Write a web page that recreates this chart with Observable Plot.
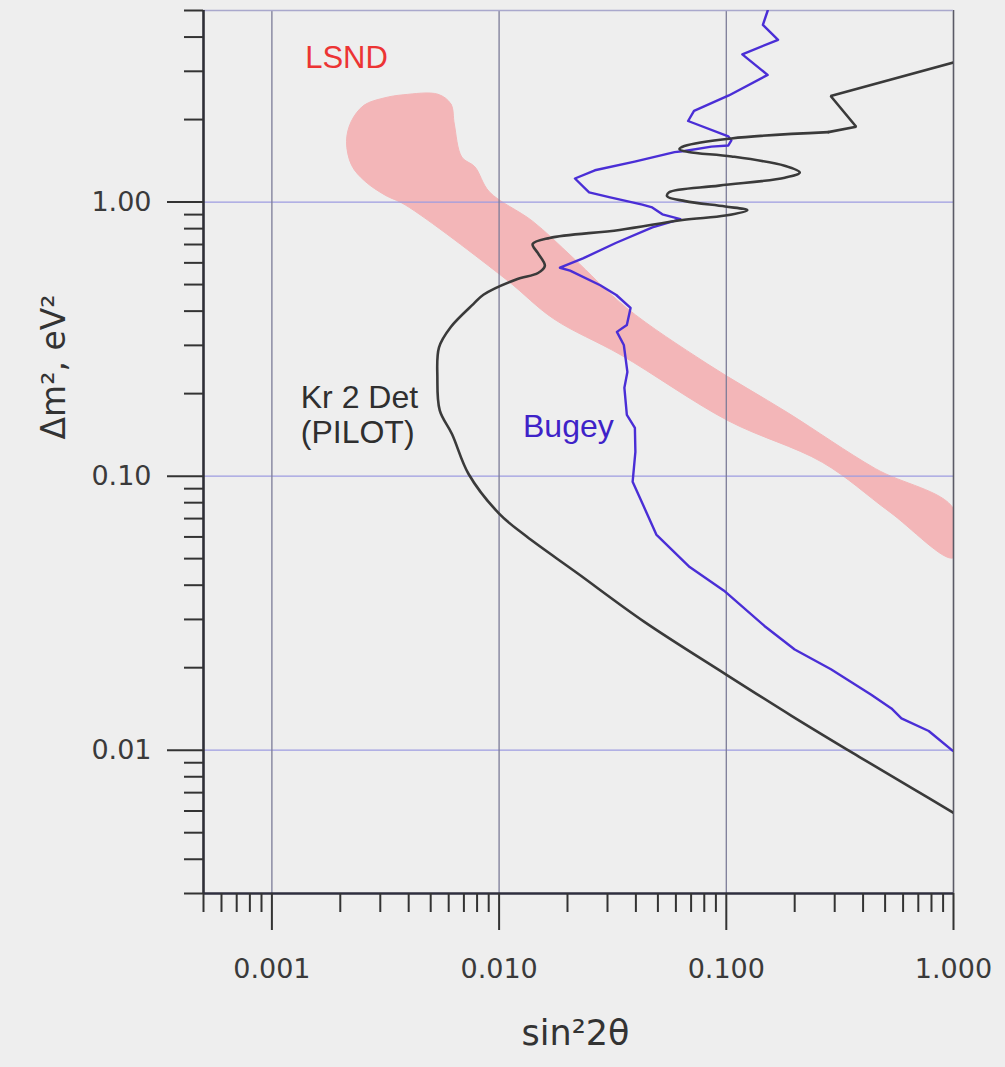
<!DOCTYPE html>
<html><head><meta charset="utf-8">
<script src="https://cdn.jsdelivr.net/npm/d3@7"></script>
<script src="https://cdn.jsdelivr.net/npm/@observablehq/plot@0.6"></script>
<style>html,body{margin:0;padding:0;background:#eeeeee;}</style>
</head><body><div id="chart"></div>
<script>
// ---- axes ----
const xDomain = [0.0005, 1];
const yDomain = [0.003, 5];
const xMajorTicks = [0.001, 0.01, 0.1, 1];
const xMajorLabels = ["0.001", "0.010", "0.100", "1.000"];
const xMinorTicks = [0.0005, 0.0006, 0.0007, 0.0008, 0.0009,
  0.002, 0.003, 0.004, 0.005, 0.006, 0.007, 0.008, 0.009,
  0.02, 0.03, 0.04, 0.05, 0.06, 0.07, 0.08, 0.09,
  0.2, 0.3, 0.4, 0.5, 0.6, 0.7, 0.8, 0.9];
const yMajorTicks = [0.01, 0.1, 1];
const yMajorLabels = ["0.01", "0.10", "1.00"];
const yMinorTicks = [0.003, 0.004, 0.005, 0.006, 0.007, 0.008, 0.009,
  0.02, 0.03, 0.04, 0.05, 0.06, 0.07, 0.08, 0.09,
  0.2, 0.3, 0.4, 0.5, 0.6, 0.7, 0.8, 0.9,
  2, 3, 4, 5];
const xTitle = "sin²2θ";
const yTitle = "Δm², eV²";

// ---- LSND allowed region (closed outline) ----
const lsndX = [0.00538, 0.00614, 0.00635, 0.00685, 0.00782, 0.00905, 0.01403, 0.02113, 0.0364, 0.0824, 0.1865, 0.4533, 1.0,
  1.0, 0.5206, 0.2647, 0.1016, 0.0344, 0.01739, 0.01074, 0.00386, 0.00315, 0.00257, 0.002246, 0.00213, 0.002235, 0.002544, 0.003113, 0.00381];
const lsndY = [2.474, 2.277, 1.927, 1.46, 1.345, 1.091, 0.852, 0.627, 0.411, 0.257, 0.1703, 0.1065, 0.0761,
  0.0504, 0.0743, 0.1123, 0.1595, 0.2767, 0.375, 0.522, 0.977, 1.06, 1.191, 1.36, 1.663, 1.969, 2.256, 2.397, 2.464];

// ---- Kr 2 Det (PILOT) sensitivity curve ----
const krX = [1.0, 0.288, 0.373, 0.281, 0.1052, 0.0654, 0.0622, 0.0682, 0.1055, 0.1806, 0.2106, 0.181, 0.0928, 0.0560, 0.0549,
  0.0659, 0.0989, 0.1237, 0.0990, 0.0641, 0.0339, 0.0167, 0.01405, 0.0148, 0.0159, 0.01484, 0.01189, 0.00853, 0.00772,
  0.00613, 0.00544, 0.00535, 0.00548, 0.00621, 0.00734, 0.0100, 0.01318, 0.02197, 0.0436, 0.0987, 0.1937, 0.3725, 0.659, 1.0];
const krY = [3.23, 2.437, 1.883, 1.80, 1.707, 1.601, 1.561, 1.523, 1.467, 1.357, 1.282, 1.227, 1.148, 1.086, 1.050,
  1.008, 0.963, 0.934, 0.893, 0.860, 0.791, 0.740, 0.703, 0.652, 0.585, 0.551, 0.522, 0.459, 0.425,
  0.350, 0.295, 0.229, 0.1737, 0.1422, 0.1018, 0.0730, 0.0603, 0.0444, 0.0294, 0.0190, 0.01335, 0.00961, 0.00726, 0.00591];
const krSharpCount = 4; // the first points form straight, sharp-cornered segments

// ---- Bugey exclusion curve ----
const bgX = [0.1522, 0.1449, 0.169, 0.1176, 0.152, 0.1026, 0.0721, 0.0679, 0.1021, 0.1053, 0.1021, 0.0860, 0.0655, 0.0592,
  0.0395, 0.0264, 0.02157, 0.0249, 0.0305, 0.0427, 0.0472, 0.0523, 0.0628, 0.0473, 0.0326, 0.0234, 0.01853, 0.02053,
  0.02787, 0.0328, 0.0379, 0.0365, 0.0330, 0.0354, 0.0367, 0.0356, 0.0365, 0.0396, 0.0398, 0.0387, 0.0430, 0.0492,
  0.069, 0.0977, 0.1472, 0.2, 0.2888, 0.4345, 0.533, 0.590, 0.778, 0.99];
const bgY = [5.0, 4.43, 3.91, 3.46, 2.91, 2.449, 2.151, 1.976, 1.735, 1.679, 1.609, 1.593, 1.535, 1.521,
  1.404, 1.306, 1.219, 1.085, 1.043, 0.979, 0.956, 0.902, 0.867, 0.808, 0.709, 0.623, 0.576, 0.562,
  0.497, 0.458, 0.411, 0.356, 0.336, 0.301, 0.240, 0.210, 0.1673, 0.150, 0.1227, 0.0953, 0.0786, 0.0612,
  0.0466, 0.0382, 0.0284, 0.0233, 0.01974, 0.01593, 0.0142, 0.01306, 0.01175, 0.00996];

// ---- annotations ----
const noteText = ["LSND", "Kr 2 Det\n(PILOT)", "Bugey"];
const noteX = [0.00213, 0.00134, 0.01274];
const noteY = [3.34, 0.168, 0.152];

const pts = (xs, ys) => xs.map((x, i) => ({x, y: ys[i]}));
const lsnd = pts(lsndX, lsndY);
const kr = pts(krX, krY);
const krTop = kr.slice(0, krSharpCount);
const krRest = kr.slice(krSharpCount - 1);
const bugey = pts(bgX, bgY);
const notes = noteText.map((t, i) => ({t, x: noteX[i], y: noteY[i]}));

const axisFont = "DejaVu Sans, sans-serif";
const noteFont = "Liberation Sans, Arial, Helvetica, sans-serif";

const chart = Plot.plot({
  width: 1005, height: 1067,
  marginLeft: 203, marginRight: 52, marginTop: 10, marginBottom: 174,
  style: {background: "#eeeeee"},
  x: {type: "log", domain: xDomain, axis: null, label: null},
  y: {type: "log", domain: yDomain, axis: null, label: null},
  marks: [
    // LSND band
    Plot.line(lsnd, {x: "x", y: "y", curve: "catmull-rom-closed", fill: "#f3b6b8", stroke: "#f3b6b8", strokeWidth: 1, clip: true}),
    // grid
    Plot.ruleY(yMajorTicks, {stroke: "#9d9be0", strokeWidth: 1.3}),
    Plot.ruleX(xMajorTicks.slice(0, 3), {stroke: "#7c7c98", strokeWidth: 1.3}),
    Plot.ruleX(xMajorTicks.slice(3), {stroke: "#5a5a66", strokeWidth: 1.6}),
    Plot.ruleY([yDomain[1]], {stroke: "#a9a8cc", strokeWidth: 1.6}),
    // curves
    Plot.line(bugey, {x: "x", y: "y", stroke: "#4a2ed6", strokeWidth: 2.4, clip: true}),
    Plot.line(krTop, {x: "x", y: "y", stroke: "#3a3a3a", strokeWidth: 2.6, strokeLinejoin: "miter", clip: true}),
    Plot.line(krRest, {x: "x", y: "y", curve: "catmull-rom", stroke: "#3a3a3a", strokeWidth: 2.6, clip: true}),
    // axis lines
    Plot.ruleX([xDomain[0]], {stroke: "#2e2e36", strokeWidth: 2.6}),
    Plot.ruleY([yDomain[0]], {stroke: "#2e2e3e", strokeWidth: 2.6}),
    // ticks
    Plot.axisX({ticks: xMinorTicks, anchor: "bottom", tickSize: 19, tickFormat: () => "", label: null, stroke: "#333", strokeWidth: 2}),
    Plot.axisX({ticks: xMajorTicks, anchor: "bottom", tickSize: 37, tickPadding: 28, label: null,
      tickFormat: d => xMajorLabels[xMajorTicks.indexOf(d)], fontSize: 27, fontFamily: axisFont,
      stroke: "#333", fill: "#3a3a3a", strokeWidth: 2}),
    Plot.axisY({ticks: yMinorTicks, anchor: "left", tickSize: 19, tickFormat: () => "", label: null, stroke: "#333", strokeWidth: 2}),
    Plot.axisY({ticks: yMajorTicks, anchor: "left", tickSize: 36, tickPadding: 16, label: null,
      tickFormat: d => yMajorLabels[yMajorTicks.indexOf(d)], fontSize: 27, fontFamily: axisFont,
      stroke: "#333", fill: "#3a3a3a", strokeWidth: 2}),
    // annotations
    Plot.text(notes.slice(0, 1), {x: "x", y: "y", text: "t", fill: "#ec3434", fontSize: 31, fontFamily: noteFont, textAnchor: "middle"}),
    Plot.text(notes.slice(1, 2), {x: "x", y: "y", text: "t", fill: "#2f2f2f", fontSize: 32, fontFamily: noteFont, textAnchor: "start", lineHeight: 1.1}),
    Plot.text(notes.slice(2, 3), {x: "x", y: "y", text: "t", fill: "#3e22c8", fontSize: 32, fontFamily: noteFont, textAnchor: "start"}),
    // axis titles
    Plot.text([xTitle], {frameAnchor: "bottom", textAnchor: "middle", lineAnchor: "bottom", dx: -3, dy: 151, fontSize: 35, fontFamily: axisFont, fill: "#333"}),
    Plot.text([yTitle], {frameAnchor: "left", textAnchor: "middle", lineAnchor: "middle", rotate: -90, dx: -149, dy: -85, fontSize: 33, fontFamily: axisFont, fill: "#333"})
  ]
});
document.getElementById("chart").append(chart);
</script>
</body></html>
